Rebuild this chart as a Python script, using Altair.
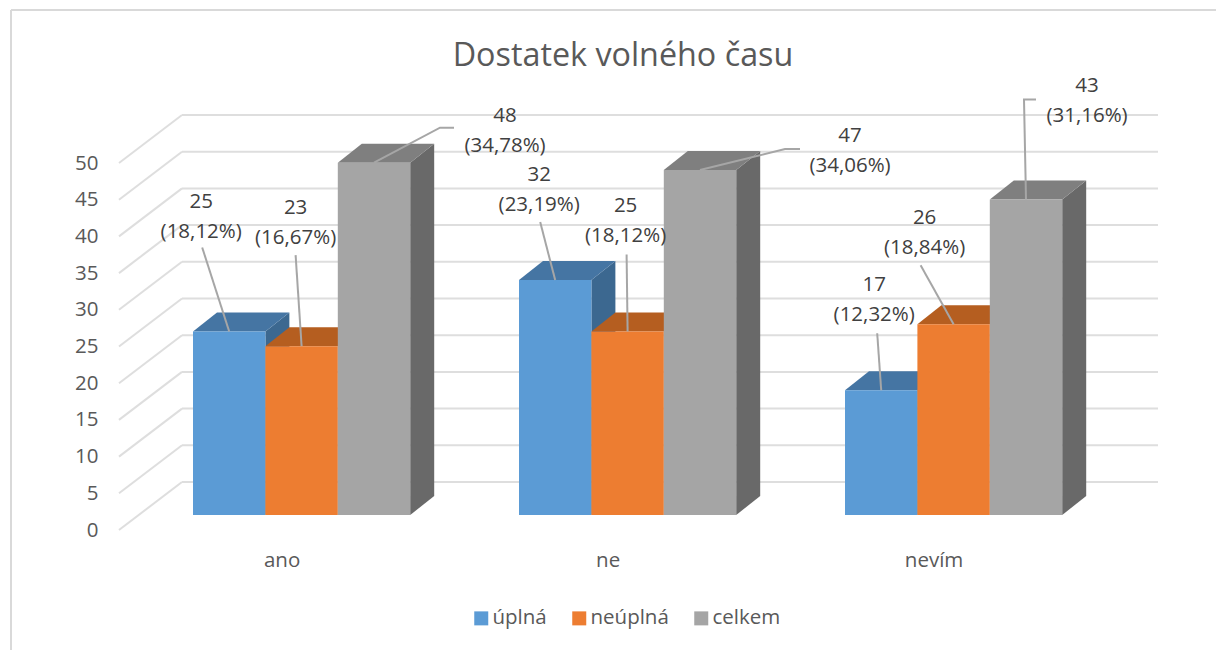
import altair as alt
import pandas as pd

# ---- values ----
categories = ["ano", "ne", "nevím"]
series = ["úplná", "neúplná", "celkem"]
uplna = [25, 32, 17]
neuplna = [23, 25, 26]
celkem = [48, 47, 43]
pct_uplna = ["18,12%", "23,19%", "12,32%"]
pct_neuplna = ["16,67%", "18,12%", "18,84%"]
pct_celkem = ["34,78%", "34,06%", "31,16%"]
front_colors = ["#5B9BD5", "#ED7D31", "#A5A5A5"]
top_colors = ["#4575A3", "#B55E20", "#7F7F7F"]
side_colors = ["#3C6890", "#A9561D", "#696969"]
y_ticks = [0, 5, 10, 15, 20, 25, 30, 35, 40, 45, 50]

# ---- projection of the 3-D look onto the plot scales ----
FONT = "Open Sans"
FS = 20.5
PX_X, PX_Y = 72.4, 7.34           # pixels per bar width and per value unit
PLOT_W, PLOT_H = 976, 367
WALL_DX, WALL_DY = 63 / PX_X, 48 / PX_Y   # floor depth
BAR_SX, BAR_SY = 20 / PX_X, 15 / PX_Y     # bar front plane inside floor
BAR_DX, BAR_DY = 24 / PX_X, 19 / PX_Y     # bar depth
G0, G_STEP = 54 / PX_X, 326 / PX_X        # first group start, group spacing

values = [uplna, neuplna, celkem]
pcts = [pct_uplna, pct_neuplna, pct_celkem]

# label offsets (px) from the centre of each bar's top front edge: dx, dy
label_off = [
    [(-28, -115), (-6, -123), (131, -32)],
    [(-16, -90), (-2, -111), (150, -19)],
    [(-7, -90), (-29, -91), (61, -98)],
]
# leader polyline start points, same reference
leader_off = [
    [[(-27, -84)], [(-6, -91)], [(80, -35), (66, -35)]],
    [[(-15, -58)], [(-1, -77)], [(100, -21), (85, -21)]],
    [[(-4, -57)], [(-33, -59)], [(10, -100), (-2, -100)]],
]

front, top, side, labels, leaders = [], [], [], [], []
for s, name in enumerate(series):
    for c, cat in enumerate(categories):
        v = values[s][c]
        x0 = G0 + G_STEP * c + s + BAR_SX
        x1 = x0 + 1
        base = BAR_SY
        yv = v + BAR_SY
        bid = f"{s}-{c}"
        front.append(dict(series=name, x=x0, x2=x1, y=base, y2=yv))
        top += [
            dict(id=bid, fill=top_colors[s], x=x0, x2=x1, y=yv),
            dict(id=bid, fill=top_colors[s], x=x0 + BAR_DX, x2=x1 + BAR_DX, y=yv + BAR_DY),
        ]
        side += [
            dict(id=bid, fill=side_colors[s], x=x1, y=base, y2=yv),
            dict(id=bid, fill=side_colors[s], x=x1 + BAR_DX, y=base + BAR_DY, y2=yv + BAR_DY),
        ]
        ax, ay = (x0 + x1) / 2, yv
        dx, dy = label_off[c][s]
        labels.append(dict(x=ax + dx / PX_X, y=ay - dy / PX_Y,
                           text=f"{v}\n({pcts[s][c]})"))
        path = [(ax + ox / PX_X, ay - oy / PX_Y) for ox, oy in leader_off[c][s]] + [(ax, ay)]
        for i, (lx, ly) in enumerate(path):
            leaders.append(dict(id=bid, i=i, x=lx, y=ly))

grid_diag, grid_back = [], []
for t in y_ticks:
    grid_diag += [dict(t=t, x=0, y=t, i=0), dict(t=t, x=WALL_DX, y=t + WALL_DY, i=1)]
    grid_back.append(dict(x=WALL_DX, x2=PLOT_W / PX_X + WALL_DX, y=t + WALL_DY))

x_scale = alt.Scale(domain=[0, PLOT_W / PX_X], nice=False, zero=False)
y_scale = alt.Scale(domain=[0, 50], nice=False, zero=False)
GRID = "#DEDEDE"

group_centres = [G0 + G_STEP * c + 1.5 for c in range(3)]
label_expr = f"{categories!r}[round((datum.value - {G0 + 1.5}) / {G_STEP})]"

x_axis = alt.Axis(values=group_centres, labelExpr=label_expr, title=None, domain=False,
                  ticks=False, grid=False, labelFont=FONT, labelFontSize=FS,
                  labelColor="#595959", labelPadding=20, labelFlush=False, labelOverlap=False,
                  labelBound=False)
y_axis = alt.Axis(values=y_ticks, title=None, domain=False, ticks=False, grid=False,
                  labelFont=FONT, labelFontSize=FS, labelColor="#595959", labelPadding=21,
                  labelOverlap=False, labelBound=False, labelFlush=False)
X = alt.X("x:Q", scale=x_scale, axis=x_axis)
Y = alt.Y("y:Q", scale=y_scale, axis=y_axis)

diag = alt.Chart(pd.DataFrame(grid_diag)).mark_line(color=GRID, strokeWidth=2).encode(
    x=X, y=Y, detail="t:N", order="i:Q")
back = alt.Chart(pd.DataFrame(grid_back)).mark_rule(color=GRID, strokeWidth=2).encode(
    x=X, x2="x2:Q", y=Y)

side_l = alt.Chart(pd.DataFrame(side)).mark_area(orient="vertical").encode(
    x=X, y=Y, y2="y2:Q", detail="id:N",
    color=alt.Color("fill:N", scale=None))
top_l = alt.Chart(pd.DataFrame(top)).mark_area(orient="horizontal").encode(
    y=Y, x=X, x2="x2:Q", detail="id:N",
    color=alt.Color("fill:N", scale=None))
front_l = alt.Chart(pd.DataFrame(front)).mark_rect().encode(
    x=X, x2="x2:Q", y=Y, y2="y2:Q",
    color=alt.Color("series:N",
                    scale=alt.Scale(domain=series, range=front_colors),
                    sort=series,
                    legend=alt.Legend(orient="none", legendX=352, legendY=445, direction="horizontal",
                                      title=None, symbolType="square", symbolSize=196,
                                      symbolStrokeWidth=0, labelFont=FONT, labelFontSize=FS,
                                      labelColor="#595959", columns=3, columnPadding=22,
                                      labelOffset=1, padding=0)))
lead_l = alt.Chart(pd.DataFrame(leaders)).mark_line(color="#A6A6A6", strokeWidth=2).encode(
    x=X, y=Y, detail="id:N", order="i:Q")
text_l = alt.Chart(pd.DataFrame(labels)).mark_text(
    font=FONT, fontSize=FS, color="#404040", lineBreak="\n", lineHeight=30,
    align="center", baseline="middle", dy=-15).encode(x=X, y=Y, text="text:N")

frame_top = alt.Chart(pd.DataFrame({"a": [0]})).mark_rule(color="#D9D9D9", strokeWidth=2).encode(
    x=alt.value(-108), x2=alt.value(1105), y=alt.value(-153))
frame_left = alt.Chart(pd.DataFrame({"a": [0]})).mark_rule(color="#D9D9D9", strokeWidth=2).encode(
    x=alt.value(-108), y=alt.value(-153), y2=alt.value(487))

chart = alt.layer(
    diag, frame_top, frame_left, back, side_l, top_l, front_l, lead_l, text_l
).properties(
    width=PLOT_W, height=PLOT_H,
    title=alt.TitleParams("Dostatek volného času", font=FONT, fontSize=32.3, fontWeight="normal",
                          color="#595959", anchor="middle", frame="group", dx=16, offset=0, dy=63),
    padding={"left": 111, "top": 155, "right": 121, "bottom": 120},
    autosize=alt.AutoSizeParams(type="none"),
).configure_view(stroke=None).configure_axis(labelOverlap=False)

chart.save("out.html", embed_options={"renderer": "svg", "actions": False})
